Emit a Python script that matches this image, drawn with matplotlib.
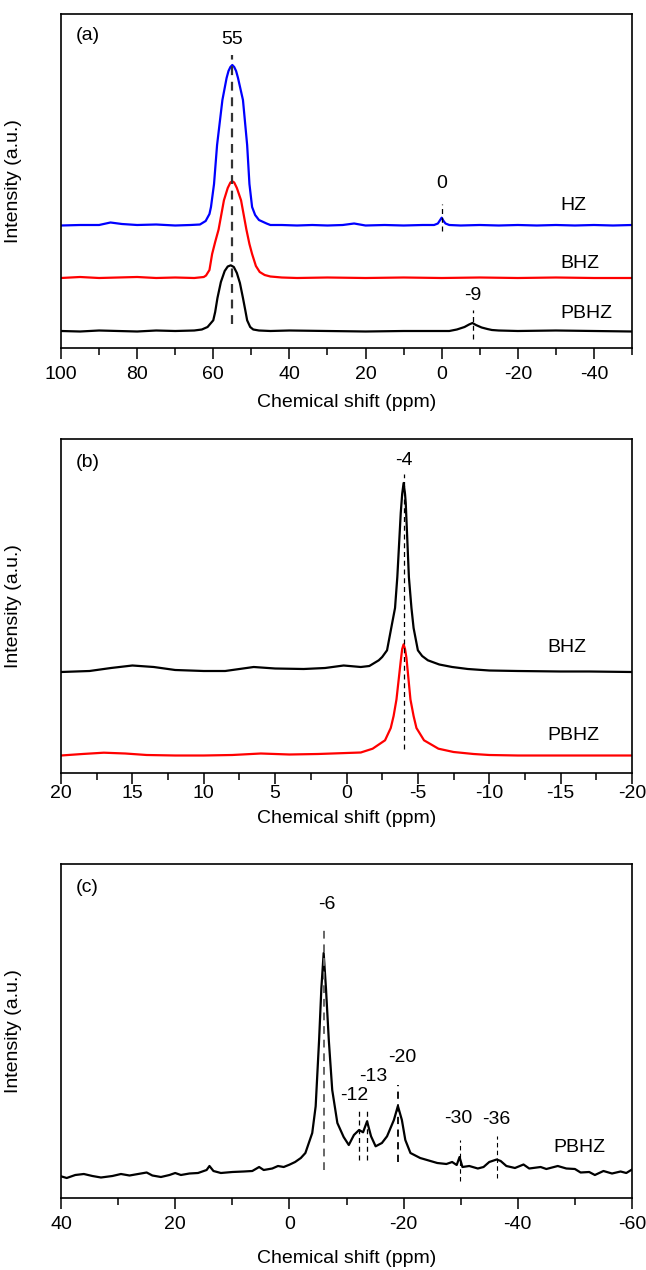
import numpy as np
import matplotlib
matplotlib.use("Agg")
import matplotlib.pyplot as plt
from matplotlib.ticker import MultipleLocator

plt.rcParams['font.family'] = ['Liberation Sans', 'DejaVu Sans']
plt.rcParams['font.size'] = 14

# ---- panel (a) ----
hz_ppm = [100, 95, 90, 87, 84, 80, 75, 70, 66, 63.5, 62, 61, 60.6, 59.8, 59.0, 57.6, 56.5, 56.0, 55.5, 55,
          54.5, 54.0, 53.5, 52.2, 51.1, 50.5, 49.8, 49, 48, 46, 45, 42, 38, 34, 30, 26, 23, 20, 15, 10, 5,
          2, 1, 0.4, 0, -0.5, -1, -2, -5, -10, -15, -20, -25, -30, -35, -40, -45, -50]
hz_int = [122.5, 123, 123, 125.5, 124, 123, 123.5, 122.5, 123, 123.5, 127, 134, 141, 164, 203, 248, 270, 277, 281, 283,
          281, 277, 270, 248, 203, 164, 141, 133, 128, 124.5, 123, 123, 122.5, 123, 122.5, 123, 124.5, 122.5, 123, 122.5, 123,
          123, 124.5, 128, 130.3, 127, 124.5, 123, 122.5, 123, 122.5, 123, 122.5, 123, 122.5, 123, 122.5, 123]

bhz_ppm = [100, 95, 90, 85, 80, 75, 70, 65, 62.5, 61.9, 61, 60.3, 59.5, 58.6, 57.2, 56.2, 55.5, 55,
           54.5, 53.8, 52.7, 51.3, 50.5, 49.8, 48.8, 47.8, 46.5, 45, 42, 38, 30, 20, 10, 0, -10, -20,
           -30, -40, -50]
bhz_int = [70, 71, 70, 70.5, 71, 70, 70.5, 70, 71, 72.5, 78, 94, 106, 118.5, 147.7, 160, 165.5, 166.7,
           165.5, 160, 147.7, 118.5, 104, 94, 82, 76, 73, 71.5, 70.5, 70, 70.5, 70, 70.5, 70, 70.5, 70,
           70.5, 70, 70]

pbhz_a_ppm = [100, 95, 90, 85, 80, 75, 70, 65, 63, 61.5, 60, 59.5, 58.9, 58, 57, 56.2, 55.4,
              54.6, 53.8, 53, 52.2, 51.6, 51.1, 50.3, 49.5, 48, 45, 40, 30, 20, 10, 0, -2, -4,
              -6, -7.2, -8.1, -9, -10.5, -12, -13.2, -15, -20, -30, -40, -50]
pbhz_a_int = [17, 16.5, 17.5, 17, 16.5, 17.5, 17, 17.5, 18.5, 21, 27.7, 36, 50, 66, 77, 81.5, 82.7,
              81, 75, 65, 50, 38, 27.7, 21, 18.5, 17.5, 17, 17.5, 17, 16.5, 17, 17, 17, 18.5,
              21, 23.5, 25, 23, 20.5, 19, 18, 17.5, 17, 17.5, 17, 16.5]

# ---- panel (b) ----
bhz_b_ppm = [20, 18, 16.5, 15, 13.5, 12, 10, 8.5, 7.5, 6.5, 5, 3, 1.5, 0.2, -1, -1.6, -2.26, -2.5, -2.84,
             -3.2, -3.4, -3.56, -3.8, -3.9, -4.0, -4.1, -4.15, -4.37, -4.55, -4.7, -5.0, -5.3, -5.7, -6.5,
             -7.4, -8.5, -10, -12, -15, -17, -20]
bhz_b_int = [101, 102, 105, 107.5, 106, 103, 102, 102, 104, 106, 104.5, 104, 105, 107.5, 106, 107,
             112.7, 116, 122.7, 150, 165, 196, 260, 279, 290, 279, 270, 196, 165, 145, 122.7, 117,
             112.7, 108.5, 106, 104, 102.5, 102, 101.5, 101.5, 101]

pbhz_b_ppm = [20, 18.5, 17, 15.5, 14, 12, 10, 8, 6, 4, 2, 0, -1, -1.83, -2.7, -3.1, -3.3, -3.5, -3.8,
              -3.9, -4.0, -4.1, -4.2, -4.48, -4.7, -4.9, -5.43, -6.44, -7.5, -8.9, -10, -12, -15, -18, -20]
pbhz_b_int = [17.5, 19, 20.3, 19.5, 18, 17.5, 17.5, 18, 19.5, 18.5, 19, 20, 20.5, 24.3, 32.7, 45,
              57, 73.5, 112, 124, 128.7, 124, 115, 73.5, 57, 45, 32.7, 24.3, 21, 19, 18, 17.5, 17.5,
              17.5, 17.5]

# ---- panel (c) ----
pbhz_c_ppm = [40, 39, 37.5, 36, 34.5, 33, 31, 29.5, 28, 26.5, 25, 24, 22.5, 21, 20, 19, 17.5, 16,
              14.5, 14, 13.3, 12, 10, 8, 6.5, 5.3, 4.5, 3, 2, 1, 0, -1, -2, -2.8, -4.0, -4.6, -5.2,
              -5.6, -6.0, -6.4, -6.9, -7.5, -8.4, -9.5, -10.4, -11.3, -12.2, -12.9, -13.6, -14.3,
              -15.1, -16.2, -17.1, -18.3, -19.0, -19.7, -20.3, -21.2, -22.9, -25.9, -27.5, -28.5,
              -29.3, -29.8, -30.3, -31.5, -33, -34, -35, -36.3, -37, -38, -39.5, -41, -42, -44, -45,
              -47, -48.5, -50, -51, -52.5, -53.5, -55, -56.5, -58, -59, -60]
pbhz_c_int = [21.7, 20, 23, 24, 22, 20.5, 22, 24, 22.5, 24, 25.5, 22.5, 21, 23, 25, 23, 24.5, 25,
              28, 32, 27, 25, 26, 26.5, 27, 31, 28, 29.5, 32, 31, 33.3, 36, 40, 45, 65, 91.7, 158,
              210, 245, 210, 158, 108, 75, 61, 53, 63, 68, 65.7, 76.7, 61.7,
              51.7, 55, 61.7, 78, 92, 78, 58, 45, 40, 35, 34, 36,
              33, 41, 31, 32, 29.5, 31, 36, 38.5, 37, 32, 30, 33.5, 29.5, 31, 29,
              32, 29.5, 29, 25.5, 26, 23, 27, 24.5, 26.5, 25, 28.5]


def style_axes(ax, xlim, major, minor, pad, xlabel_y):
    ax.set_xlim(*xlim)
    ax.set_ylim(0, 334)
    ax.set_yticks([])
    ax.xaxis.set_major_locator(MultipleLocator(major))
    ax.xaxis.set_minor_locator(MultipleLocator(minor))
    ax.tick_params(axis='x', which='major', direction='out', length=8, width=1.1, pad=pad, labelsize=14)
    ax.tick_params(axis='x', which='minor', direction='out', length=5, width=1.1)
    ax.tick_params(top=False, right=False)
    for sp in ax.spines.values():
        sp.set_linewidth(1.2)
    ax.set_xlabel('Chemical shift (ppm)', fontsize=14)
    ax.xaxis.set_label_coords(0.5, xlabel_y)
    ax.xaxis.label.set_va('center')
    ax.set_ylabel('Intensity (a.u.)', fontsize=14)
    ax.yaxis.set_label_coords(-0.068, 0.5)
    ax.xaxis.set_major_formatter(matplotlib.ticker.FuncFormatter(lambda v, p: f'{v:g}'))


def vmark(ax, x, y0, y1, lw=0.9, color='black'):
    ax.plot([x, x], [y0, y1], ls=(0, (4, 3)), lw=lw, color=color)


fig = plt.figure(figsize=(6.46, 12.7), dpi=100)
W = 571 / 646
L = 61 / 646

# (a)
ax1 = fig.add_axes([L, 1 - 348 / 1270, W, 334 / 1270])
ax1.plot(hz_ppm, hz_int, color='#0000ff', lw=1.6)
ax1.plot(bhz_ppm, bhz_int, color='#ff0000', lw=1.6)
ax1.plot(pbhz_a_ppm, pbhz_a_int, color='black', lw=1.6)
vmark(ax1, 55, 23.7, 292.7, lw=1.6, color='#333333')
vmark(ax1, 0, 116.7, 143.7)
vmark(ax1, -8.2, 9.3, 37.7)
ax1.text(55, 308, '55', ha='center', va='center', fontsize=14)
ax1.text(0, 165, '0', ha='center', va='center', fontsize=14)
ax1.text(-8.2, 52.7, '-9', ha='center', va='center', fontsize=14)
ax1.text(-31.2, 142.7, 'HZ', ha='left', va='center', fontsize=14)
ax1.text(-31.2, 85, 'BHZ', ha='left', va='center', fontsize=14)
ax1.text(-31.2, 34, 'PBHZ', ha='left', va='center', fontsize=14)
ax1.text(0.025, 0.935, '(a)', transform=ax1.transAxes, ha='left', va='center', fontsize=14)
style_axes(ax1, (100, -50), 20, 10, 5, -0.162)

# (b)
ax2 = fig.add_axes([L, 1 - 773 / 1270, W, 334 / 1270])
ax2.plot(bhz_b_ppm, bhz_b_int, color='black', lw=1.6)
ax2.plot(pbhz_b_ppm, pbhz_b_int, color='#ff0000', lw=1.6)
vmark(ax2, -4, 24.3, 299)
ax2.text(-4, 312, '-4', ha='center', va='center', fontsize=14)
ax2.text(-14.1, 125, 'BHZ', ha='left', va='center', fontsize=14)
ax2.text(-14.1, 37, 'PBHZ', ha='left', va='center', fontsize=14)
ax2.text(0.025, 0.93, '(b)', transform=ax2.transAxes, ha='left', va='center', fontsize=14)
style_axes(ax2, (20, -20), 5, 2.5, 0.3, -0.137)

# (c)
ax3 = fig.add_axes([L, 1 - 1198 / 1270, W, 334 / 1270])
ax3.plot(pbhz_c_ppm, pbhz_c_int, color='black', lw=1.6)
vmark(ax3, -6, 28.3, 268, lw=1.4, color='#666666')
vmark(ax3, -12.2, 38.3, 88.3)
vmark(ax3, -13.6, 38.3, 90)
vmark(ax3, -19.1, 35.7, 113.3, lw=1.3)
vmark(ax3, -29.8, 16.7, 58.3, lw=0.8)
vmark(ax3, -36.3, 20, 61.7, lw=0.8)
ax3.text(-6.5, 293.3, '-6', ha='center', va='center', fontsize=14)
ax3.text(-11.3, 102.6, '-12', ha='center', va='center', fontsize=14)
ax3.text(-14.7, 121.6, '-13', ha='center', va='center', fontsize=14)
ax3.text(-19.7, 140, '-20', ha='center', va='center', fontsize=14)
ax3.text(-29.5, 79.3, '-30', ha='center', va='center', fontsize=14)
ax3.text(-36.3, 78.3, '-36', ha='center', va='center', fontsize=14)
ax3.text(-46.2, 50, 'PBHZ', ha='left', va='center', fontsize=14)
ax3.text(0.025, 0.93, '(c)', transform=ax3.transAxes, ha='left', va='center', fontsize=14)
style_axes(ax3, (40, -60), 20, 10, 5, -0.18)

fig.savefig('out.png', dpi=100)
